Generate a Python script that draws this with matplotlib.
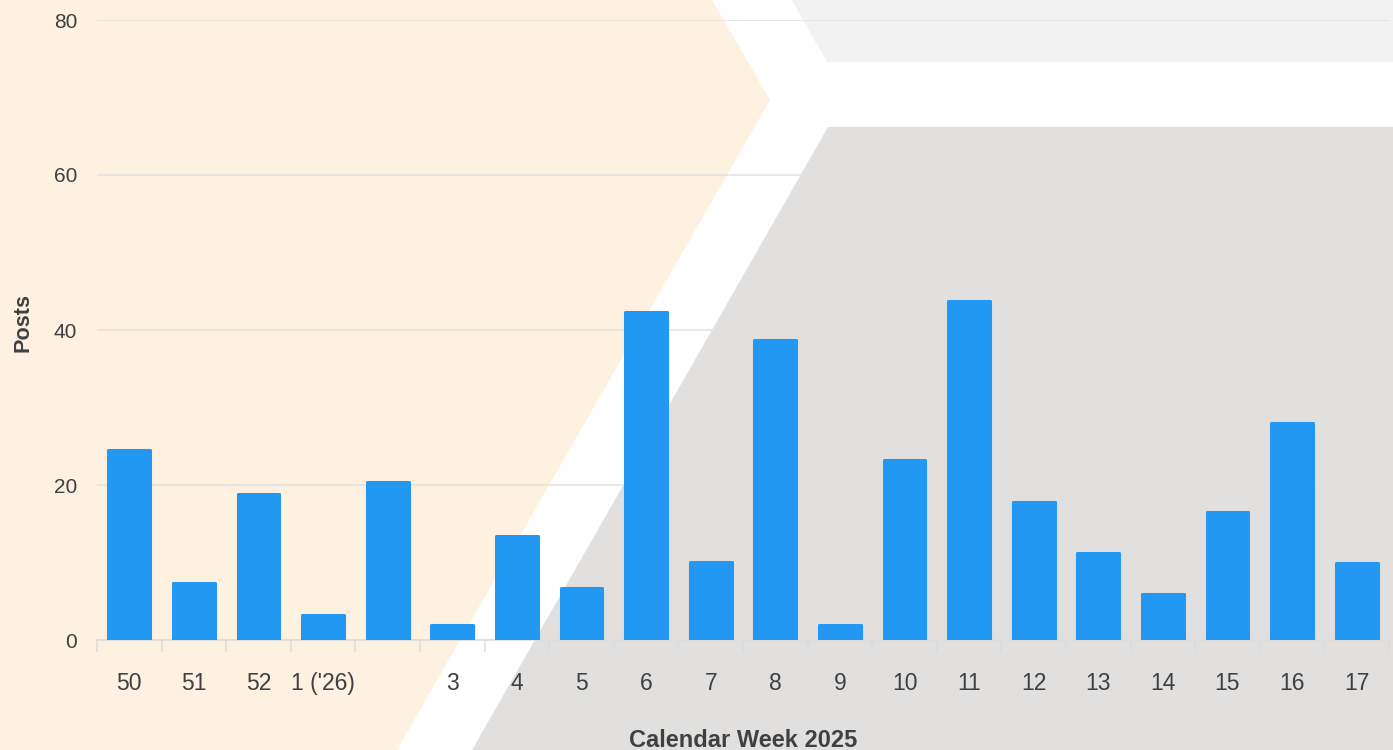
import matplotlib
matplotlib.use("Agg")
import matplotlib.pyplot as plt
from matplotlib.patches import Polygon
from matplotlib.ticker import FixedLocator
import numpy as np

plt.rcParams["font.family"] = ["Liberation Sans", "DejaVu Sans"]

# ---- data ----
weeks = ["50", "51", "52", "1 ('26)", "", "3", "4", "5", "6", "7", "8", "9",
         "10", "11", "12", "13", "14", "15", "16", "17"]
posts = [24.5, 7.3, 18.8, 3.2, 20.4, 1.9, 13.4, 6.7, 42.3, 10.1, 38.7, 1.9,
         23.2, 43.7, 17.8, 11.2, 5.9, 16.5, 28.0, 9.9]
y_ticks = [0, 20, 40, 60, 80]
x_title = "Calendar Week 2025"
y_title = "Posts"

W, H = 1393, 750
fig = plt.figure(figsize=(W / 100, H / 100), dpi=100, facecolor="white")

# ---- background shapes (pixel coordinates, top-left origin) ----
def px(points):
    return [(x / W, 1 - y / H) for x, y in points]

bg_shapes = [
    (px([(0, 0), (712, 0), (770, 100), (397, 750), (0, 750)]), "#FFF1DF"),
    (px([(792, 0), (1393, 0), (1393, 62), (827, 62)]), "#F2F2F2"),
    (px([(828, 127), (1393, 127), (1393, 750), (472, 750)]), "#E1E0DF"),
]
for pts, col in bg_shapes:
    fig.patches.append(Polygon(pts, closed=True, transform=fig.transFigure,
                               facecolor=col, edgecolor="none", zorder=-10))

# ---- axes ----
left_px, right_px = 97, 1389
ax = fig.add_axes([left_px / W, 1 - 640 / H, (right_px - left_px) / W, 620 / H])
ax.set_zorder(1)
ax.patch.set_visible(False)

x = np.arange(len(weeks))
bar_color = "#2298F3"
ax.bar(x, posts, width=0.648, color=bar_color, edgecolor=bar_color,
       linewidth=2.2, joinstyle="round", zorder=3)

ax.set_xlim(-0.5, len(weeks) - 0.5)
ax.set_ylim(0, 80)

text_color = "#3d4144"
ax.set_yticks(y_ticks)
ax.set_yticklabels([str(v) for v in y_ticks])
ax.tick_params(axis="y", length=0, pad=14.4, labelsize=15, labelcolor=text_color)

ax.set_xticks(x)
ax.set_xticklabels(weeks)
ax.tick_params(axis="x", which="major", length=0, pad=23, labelsize=16.5,
               labelcolor=text_color)
ax.xaxis.set_minor_locator(FixedLocator(np.arange(-0.5, len(weeks), 1.0)))
ax.tick_params(axis="x", which="minor", length=8.6, width=1.1, color="#dcdcdc",
               direction="out")

ax.yaxis.grid(True, color="#e2e2e2", linewidth=1.1, zorder=1)
ax.set_axisbelow(True)
for s in ["top", "right", "left"]:
    ax.spines[s].set_visible(False)
ax.spines["bottom"].set_color("#dcdcdc")
ax.spines["bottom"].set_linewidth(1.1)

ax.set_xlabel(x_title, fontsize=17, fontweight="bold", color=text_color)
ax.xaxis.label.set_va("baseline")
ax.xaxis.set_label_coords(0.5, (640 - 747) / 620)

ax.set_ylabel(y_title, fontsize=15.6, fontweight="bold", color=text_color)
ax.yaxis.label.set_va("center")
ax.yaxis.label.set_ha("center")
ax.yaxis.set_label_coords((23 - 97) / (right_px - left_px), (640 - 322) / 620)

fig.savefig("out.png", dpi=100, facecolor="white")
